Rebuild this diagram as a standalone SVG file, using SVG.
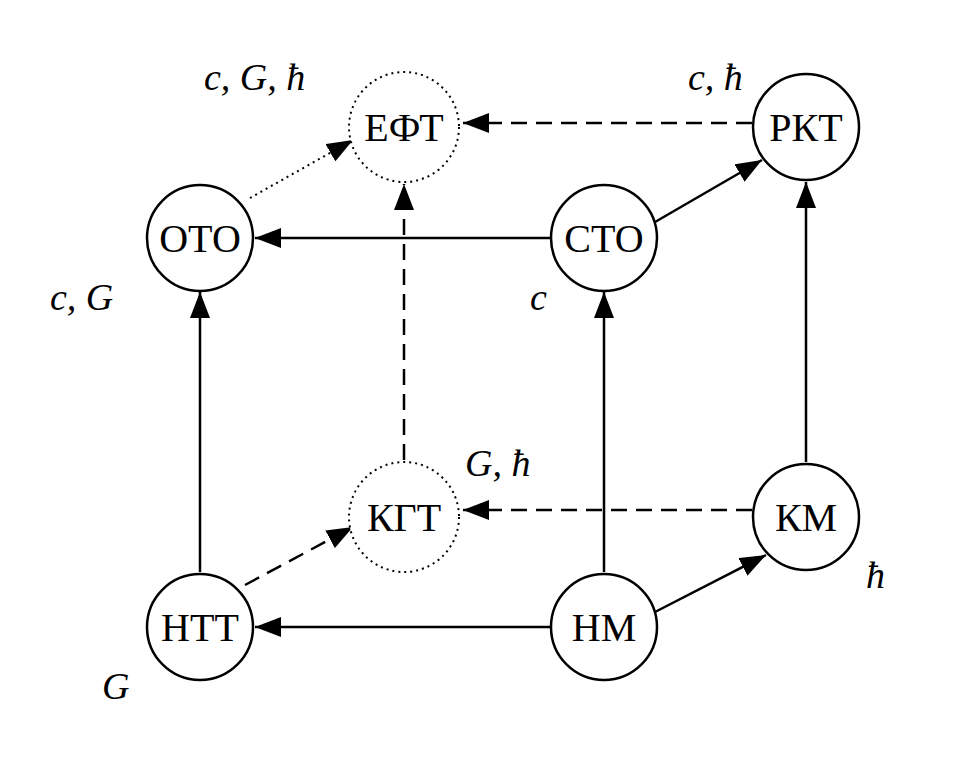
<svg xmlns="http://www.w3.org/2000/svg" width="966" height="768" viewBox="0 0 966 768">
<style>
.n{fill:#fff;stroke:#000;stroke-width:2.5}
.d{stroke-width:2;stroke-dasharray:2 4}
.t{font-family:"Liberation Serif",serif;font-size:40px;text-anchor:middle;dominant-baseline:central}
.l{font-family:"Liberation Serif",serif;font-size:38px;font-style:italic}
.e{stroke:#000;stroke-width:2.5;fill:none}
.ds{stroke-dasharray:16 9}
.dt{stroke-width:2;stroke-dasharray:2 4}
</style>
<defs>
<marker id="b" markerWidth="26" markerHeight="20" refX="26" refY="10" orient="auto" markerUnits="userSpaceOnUse"><path d="M0,0L26,10L0,20z"/></marker></defs>
<rect width="966" height="768" fill="#fff"/>
<g id="connectors">
<line class="e ds" x1="752" y1="123" x2="463" y2="123" marker-end="url(#b)"/>
<line class="e dt" x1="250" y1="198" x2="353" y2="140" marker-end="url(#b)"/>
<line class="e" x1="550" y1="238" x2="255" y2="238" marker-end="url(#b)"/>
<line class="e" x1="655" y1="222" x2="762" y2="160" marker-end="url(#b)"/>
<line class="e ds" x1="404" y1="460" x2="404" y2="184" marker-end="url(#b)"/>
<line class="e" x1="200" y1="572" x2="200" y2="292" marker-end="url(#b)"/>
<line class="e" x1="604" y1="572" x2="604" y2="292" marker-end="url(#b)"/>
<line class="e" x1="806" y1="462" x2="806" y2="182" marker-end="url(#b)"/>
<line class="e ds" x1="752" y1="510" x2="463" y2="510" marker-end="url(#b)"/>
<line class="e ds" x1="245" y1="585" x2="353" y2="527" marker-end="url(#b)"/>
<line class="e" x1="550" y1="627" x2="255" y2="627" marker-end="url(#b)"/>
<line class="e" x1="655" y1="612" x2="766" y2="555" marker-end="url(#b)"/>
</g>
<g id="EFT"><circle class="n d" cx="404" cy="127" r="55"/><text class="t" x="404" y="127">ЕФТ</text></g>
<g id="RKT"><circle class="n" cx="806" cy="127" r="53"/><text class="t" x="806" y="127">РКТ</text></g>
<g id="OTO"><circle class="n" cx="200" cy="238" r="53"/><text class="t" x="200" y="238">ОТО</text></g>
<g id="STO"><circle class="n" cx="604" cy="238" r="53"/><text class="t" x="604" y="238">СТО</text></g>
<g id="KGT"><circle class="n d" cx="404" cy="517" r="55"/><text class="t" x="404" y="517">КГТ</text></g>
<g id="KM"><circle class="n" cx="806" cy="517" r="53"/><text class="t" x="806" y="517">КМ</text></g>
<g id="NTT"><circle class="n" cx="200" cy="627" r="53"/><text class="t" x="200" y="627">НТТ</text></g>
<g id="NM"><circle class="n" cx="604" cy="627" r="53"/><text class="t" x="604" y="627">НМ</text></g>
<g id="labels">
<text class="l" x="204" y="90">c, G, ħ</text>
<text class="l" x="688" y="90">c, ħ</text>
<text class="l" x="50" y="310">c, G</text>
<text class="l" x="530" y="310">c</text>
<text class="l" x="465" y="476">G, ħ</text>
<text class="l" x="866" y="588">ħ</text>
<text class="l" x="102" y="699">G</text>
</g>
</svg>
